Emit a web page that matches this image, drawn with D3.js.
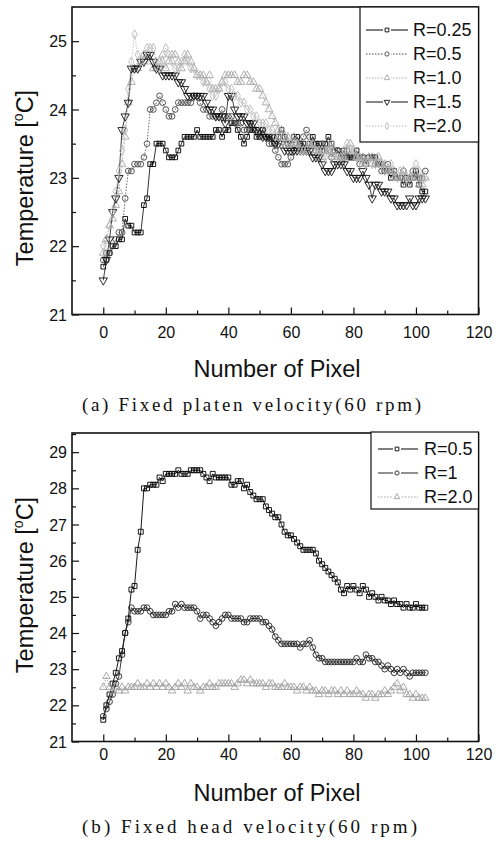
<!DOCTYPE html>
<html><head><meta charset="utf-8">
<script src="https://cdn.jsdelivr.net/npm/d3@7"></script>
<style>body{margin:0;background:#fff}svg{display:block}</style>
</head><body>
<script>
// ---------------- DATA ----------------
const pixels = d3.range(0, 104); // Number of Pixel 0..103
const xTicks = [0, 20, 40, 60, 80, 100, 120];
const yTicksA = [21, 22, 23, 24, 25];
const yTicksB = [21, 22, 23, 24, 25, 26, 27, 28, 29];

const labelsA = ["R=0.25", "R=0.5", "R=1.0", "R=1.5", "R=2.0"];
const A_R025 = [21.7,21.8,21.9,22.0,22.0,22.1,22.1,22.4,22.3,22.3,
22.2,22.2,22.2,22.6,22.7,23.2,23.2,23.5,23.5,23.5,
23.4,23.3,23.3,23.3,23.4,23.5,23.6,23.6,23.6,23.6,
23.7,23.6,23.6,23.6,23.6,23.6,23.7,23.7,23.6,23.7,
23.7,23.8,23.8,23.7,23.6,23.5,23.6,23.7,23.7,23.6,
23.6,23.7,23.6,23.6,23.6,23.5,23.6,23.7,23.6,23.5,
23.5,23.6,23.6,23.5,23.5,23.4,23.5,23.6,23.5,23.5,
23.4,23.5,23.6,23.5,23.4,23.4,23.3,23.4,23.3,23.3,
23.3,23.4,23.3,23.3,23.2,23.3,23.3,23.3,23.2,23.2,
23.1,23.1,23.0,23.1,23.0,23.0,22.9,23.0,22.9,23.0,
23.1,22.9,22.8,22.8];
const A_R05 = [21.8,21.9,21.9,22.0,22.1,22.2,22.2,22.7,23.1,23.1,
23.2,23.2,23.2,23.3,23.5,24.0,24.0,24.1,24.2,24.1,
24.0,23.9,23.9,24.0,24.1,24.1,24.1,24.1,24.1,24.2,
24.2,24.1,24.0,24.0,23.9,23.9,23.9,23.9,24.0,23.9,
23.9,23.9,23.8,23.8,23.8,23.7,23.7,23.8,23.7,23.7,
23.6,23.7,23.6,23.5,23.5,23.4,23.3,23.2,23.2,23.2,
23.3,23.4,23.5,23.5,23.6,23.7,23.6,23.5,23.4,23.4,
23.5,23.4,23.4,23.3,23.4,23.4,23.3,23.3,23.4,23.3,
23.3,23.3,23.2,23.3,23.2,23.3,23.3,23.2,23.2,23.1,
23.1,23.2,23.1,23.1,23.0,23.0,23.1,23.0,23.0,23.1,
23.1,23.0,23.0,23.1];
const A_R10 = [21.9,22.1,22.3,22.4,22.6,22.8,23.2,23.6,24.1,24.4,
24.6,24.6,24.7,24.8,24.8,24.7,24.6,24.6,24.7,24.8,
24.6,24.7,24.8,24.8,24.7,24.6,24.7,24.8,24.7,24.6,
24.5,24.5,24.5,24.4,24.5,24.3,24.3,24.3,24.4,24.5,
24.5,24.5,24.5,24.4,24.4,24.5,24.5,24.4,24.4,24.3,
24.3,24.2,24.1,24.0,23.9,23.8,23.7,23.7,23.6,23.6,
23.5,23.5,23.5,23.4,23.4,23.4,23.5,23.4,23.4,23.3,
23.3,23.4,23.4,23.4,23.3,23.3,23.3,23.3,23.4,23.5,
23.4,23.3,23.3,23.2,23.2,23.3,23.3,23.2,23.3,23.2,
23.2,23.1,23.1,23.0,23.0,23.0,23.1,22.9,23.0,23.0,
23.0,22.9,22.9,23.0];
const A_R15 = [21.5,21.8,22.1,22.5,22.7,23.0,23.7,23.9,24.1,24.6,
24.6,24.6,24.7,24.7,24.8,24.8,24.7,24.6,24.6,24.5,
24.5,24.5,24.5,24.5,24.4,24.4,24.3,24.2,24.2,24.2,
24.2,24.2,24.2,24.1,24.0,24.0,23.9,23.9,23.9,23.8,
24.2,24.2,24.0,23.9,23.9,23.9,23.8,23.8,23.8,23.7,
23.7,23.6,23.6,23.6,23.6,23.5,23.5,23.5,23.4,23.4,
23.4,23.4,23.4,23.4,23.4,23.4,23.4,23.3,23.3,23.3,
23.2,23.1,23.1,23.1,23.2,23.2,23.2,23.2,23.1,23.1,
23.0,23.0,23.0,23.1,23.0,22.9,22.7,22.9,22.9,22.8,
22.8,22.8,22.7,22.7,22.6,22.6,22.6,22.6,22.7,22.6,
22.6,22.7,22.7,22.7];
const A_R20 = [22.0,22.1,22.3,22.5,22.8,23.1,23.4,23.7,24.3,24.7,
25.1,24.8,24.7,24.8,24.9,24.9,24.9,24.7,24.6,24.7,
24.9,24.8,24.7,24.6,24.6,24.7,24.8,24.7,24.6,24.6,
24.5,24.5,24.4,24.4,24.3,24.2,24.2,24.3,24.4,24.4,
24.3,24.3,24.2,24.2,24.1,24.1,24.0,24.0,23.9,23.9,
23.8,23.8,23.8,23.7,23.7,23.6,23.6,23.5,23.5,23.5,
23.5,23.6,23.5,23.4,23.4,23.4,23.5,23.5,23.4,23.4,
23.4,23.3,23.4,23.5,23.4,23.3,23.3,23.4,23.5,23.4,
23.4,23.3,23.3,23.3,23.2,23.3,23.2,23.2,23.3,23.2,
23.1,23.1,23.2,23.1,23.0,23.1,23.1,23.0,23.0,23.1,
23.2,23.1,23.0,23.0];

const labelsB = ["R=0.5", "R=1", "R=2.0"];
const B_R05 = [21.6,22.0,22.3,22.6,22.9,23.3,23.5,24.0,24.4,25.2,
25.3,26.3,26.8,28.0,28.0,28.1,28.1,28.1,28.3,28.2,
28.4,28.4,28.4,28.4,28.5,28.4,28.4,28.4,28.5,28.5,
28.5,28.5,28.4,28.3,28.2,28.4,28.3,28.3,28.3,28.3,
28.3,28.1,28.1,28.2,28.2,28.0,28.1,27.9,27.8,27.7,
27.7,27.7,27.5,27.4,27.3,27.2,27.2,27.0,26.8,26.7,
26.7,26.6,26.5,26.4,26.3,26.3,26.3,26.3,26.2,26.0,
25.9,25.8,25.7,25.6,25.5,25.4,25.2,25.1,25.3,25.2,
25.3,25.2,25.1,25.3,25.2,25.0,25.1,25.0,24.9,25.0,
24.9,24.9,24.8,24.9,24.8,24.8,24.7,24.8,24.7,24.7,
24.8,24.7,24.7,24.7];
const B_R1 = [21.7,21.9,22.1,22.3,22.6,22.8,23.4,24.0,24.3,24.7,
24.6,24.6,24.6,24.7,24.7,24.6,24.5,24.5,24.5,24.5,
24.5,24.6,24.6,24.8,24.7,24.8,24.7,24.7,24.7,24.7,
24.6,24.4,24.5,24.5,24.4,24.3,24.2,24.3,24.4,24.5,
24.5,24.4,24.4,24.4,24.4,24.3,24.3,24.4,24.4,24.4,
24.4,24.3,24.3,24.2,24.1,23.9,23.8,23.7,23.7,23.7,
23.7,23.7,23.7,23.6,23.7,23.7,23.8,23.6,23.4,23.3,
23.3,23.2,23.2,23.2,23.2,23.2,23.2,23.2,23.2,23.2,
23.2,23.3,23.2,23.2,23.4,23.3,23.3,23.2,23.2,23.1,
23.0,23.1,23.0,22.9,23.0,22.9,23.0,22.9,22.8,22.9,
22.9,22.9,22.9,22.9];
const B_R2 = [22.5,22.8,22.5,22.4,22.5,22.4,22.5,22.4,22.5,22.5,
22.5,22.6,22.5,22.5,22.6,22.5,22.6,22.5,22.6,22.5,
22.6,22.5,22.4,22.5,22.6,22.5,22.6,22.4,22.6,22.5,
22.5,22.4,22.5,22.5,22.6,22.5,22.5,22.6,22.6,22.6,
22.6,22.6,22.5,22.6,22.7,22.7,22.6,22.7,22.6,22.6,
22.6,22.6,22.5,22.6,22.6,22.5,22.5,22.5,22.6,22.5,
22.5,22.5,22.4,22.5,22.5,22.4,22.5,22.4,22.4,22.3,
22.4,22.4,22.3,22.4,22.4,22.3,22.4,22.3,22.4,22.3,
22.3,22.4,22.3,22.3,22.2,22.3,22.3,22.2,22.3,22.3,
22.4,22.3,22.4,22.5,22.6,22.4,22.5,22.3,22.3,22.2,
22.3,22.2,22.2,22.2];

// ---------------- DRAW ----------------
const W = 504, H = 845;
const svg = d3.select("body").append("svg").attr("width", W).attr("height", H)
  .style("font-family", "'Liberation Sans', Arial, sans-serif");

const symTypes = {
  square: d3.symbolSquare, circle: d3.symbolCircle, tri: d3.symbolTriangle,
  down: d3.symbolTriangle, diamond: d3.symbolDiamond
};

function drawMarker(g, type, x, y, size, color) {
  g.append("path")
    .attr("d", d3.symbol().type(symTypes[type]).size(size)())
    .attr("transform", `translate(${x},${y})` + (type === "down" ? " rotate(180)" : ""))
    .attr("fill", "none").attr("stroke", color).attr("stroke-width", 0.9);
}

function panel(cfg) {
  const x = d3.scaleLinear().domain([-10, 120]).range([cfg.left, cfg.right]);
  const y = d3.scaleLinear().domain(cfg.yDomain).range([cfg.bottom, cfg.top]);
  const g = svg.append("g");

  // axes with inward ticks
  const xMinor = d3.range(0, 121, 10).filter(v => v % 20 !== 0);
  g.append("g").attr("transform", `translate(0,${cfg.bottom})`)
    .call(d3.axisBottom(x).tickValues(xMinor).tickSize(-4).tickFormat(""))
    .call(a => a.select(".domain").remove());
  const xa = g.append("g").attr("transform", `translate(0,${cfg.bottom})`)
    .call(d3.axisBottom(x).tickValues(xTicks).tickSize(-7).tickPadding(0).tickFormat(d3.format("d")));
  xa.select(".domain").remove();
  xa.selectAll("text").attr("font-size", 16).attr("fill", "#111")
    .attr("dy", null).attr("y", cfg.xLabelY - cfg.bottom);

  const yMinor = cfg.yTicks.map(v => v + 0.5).filter(v => v < cfg.yDomain[1]);
  g.append("g").attr("transform", `translate(${cfg.left},0)`)
    .call(d3.axisLeft(y).tickValues(yMinor).tickSize(-4).tickFormat(""))
    .call(a => a.select(".domain").remove());
  const ya = g.append("g").attr("transform", `translate(${cfg.left},0)`)
    .call(d3.axisLeft(y).tickValues(cfg.yTicks).tickSize(-7).tickPadding(0).tickFormat(d3.format("d")));
  ya.select(".domain").remove();
  ya.selectAll("text").attr("font-size", 16).attr("fill", "#111").attr("x", -5).attr("dy", "0.35em");
  g.selectAll(".tick line").attr("stroke", "#111").attr("stroke-width", 1.2);

  // frame
  g.append("rect").attr("x", cfg.left).attr("y", cfg.top)
    .attr("width", cfg.right - cfg.left).attr("height", cfg.bottom - cfg.top)
    .attr("fill", "none").attr("stroke", "#111").attr("stroke-width", 1.6);

  // series
  const line = d3.line().x((d, i) => x(pixels[i])).y(d => y(d));
  cfg.series.forEach(s => {
    g.append("path").datum(s.values).attr("d", line)
      .attr("fill", "none").attr("stroke", s.color).attr("stroke-width", s.lw)
      .attr("stroke-dasharray", s.dash || null);
    const mg = g.append("g");
    s.values.forEach((v, i) => drawMarker(mg, s.sym, x(pixels[i]), y(v), s.size, s.color));
  });

  // legend
  const L = cfg.legend;
  g.append("rect").attr("x", L.x0).attr("y", L.y0).attr("width", L.x1 - L.x0).attr("height", L.y1 - L.y0)
    .attr("fill", "#fff").attr("stroke", "#111").attr("stroke-width", 1.2);
  cfg.series.forEach((s, k) => {
    const cy = L.firstRow + k * L.pitch;
    g.append("line").attr("x1", L.lx0).attr("x2", L.lx1).attr("y1", cy).attr("y2", cy)
      .attr("stroke", s.color).attr("stroke-width", s.lw + 0.2).attr("stroke-dasharray", s.dash || null);
    g.append("rect").attr("x", L.sx - 4).attr("y", cy - 3).attr("width", 8).attr("height", 6).attr("fill", "#fff");
    drawMarker(g, s.sym, L.sx, cy, 14, s.color);
    g.append("text").attr("x", L.tx).attr("y", cy).attr("dy", "0.36em")
      .attr("font-size", 18).attr("fill", "#111").text(s.label);
  });

  // axis titles
  g.append("text").attr("x", 277).attr("y", cfg.xTitleY).attr("text-anchor", "middle")
    .attr("font-size", 23.5).attr("fill", "#111").text("Number of Pixel");
  const yt = g.append("text").attr("transform", `translate(33,${cfg.yTitleY}) rotate(-90)`)
    .attr("text-anchor", "middle").attr("font-size", 23.5).attr("fill", "#111");
  yt.append("tspan").text("Temperature [");
  yt.append("tspan").attr("font-size", 14).attr("dy", "-0.75em").text("o");
  yt.append("tspan").attr("dy", "0.45em").text("C]");

  // caption
  svg.append("text").attr("x", 82).attr("y", cfg.captionY)
    .attr("textLength", cfg.captionW).attr("lengthAdjust", "spacing")
    .style("font-family", "'Liberation Serif', 'DejaVu Serif', serif")
    .attr("font-size", 19).attr("fill", "#111").text(cfg.caption);
}

panel({
  left: 72, right: 478.5, top: 7, bottom: 314.5, yDomain: [21, 25.5], yTicks: yTicksA,
  xLabelY: 338, xTitleY: 377, yTitleY: 178, captionY: 411, captionW: 339,
  caption: "(a) Fixed platen velocity(60 rpm)",
  legend: { x0: 360, x1: 478.5, y0: 7, y1: 142, firstRow: 30, pitch: 24, lx0: 366, lx1: 408, sx: 387, tx: 413 },
  series: [
    { label: labelsA[0], values: A_R025, sym: "square", size: 22, color: "#000", lw: 0.8 },
    { label: labelsA[1], values: A_R05, sym: "circle", size: 26, color: "#444", lw: 0.8, dash: "1.5,1.5" },
    { label: labelsA[2], values: A_R10, sym: "tri", size: 26, color: "#a8a8a8", lw: 0.8, dash: "1.5,1.5" },
    { label: labelsA[3], values: A_R15, sym: "down", size: 30, color: "#111", lw: 0.8 },
    { label: labelsA[4], values: A_R20, sym: "diamond", size: 24, color: "#b8b8b8", lw: 0.8, dash: "1.5,1.5" }
  ]
});

panel({
  left: 72, right: 478.5, top: 433, bottom: 741.5, yDomain: [21, 29.53], yTicks: yTicksB,
  xLabelY: 760, xTitleY: 801, yTitleY: 585, captionY: 833, captionW: 335,
  caption: "(b) Fixed head velocity(60 rpm)",
  legend: { x0: 371, x1: 478.5, y0: 432, y1: 509, firstRow: 449, pitch: 24, lx0: 378, lx1: 418, sx: 397, tx: 424 },
  series: [
    { label: labelsB[0], values: B_R05, sym: "square", size: 24, color: "#000", lw: 0.9 },
    { label: labelsB[1], values: B_R1, sym: "circle", size: 26, color: "#222", lw: 0.9 },
    { label: labelsB[2], values: B_R2, sym: "tri", size: 24, color: "#a0a0a0", lw: 0.8, dash: "1.5,1.5" }
  ]
});
</script>
</body></html>
